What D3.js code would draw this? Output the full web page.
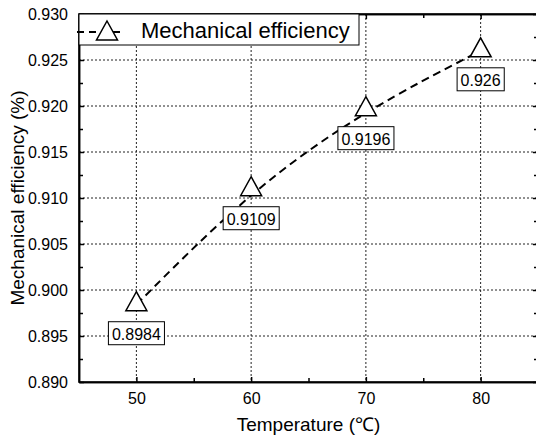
<!DOCTYPE html>
<html lang="en">
<head>
  <meta charset="UTF-8">
  <title>Mechanical efficiency</title>
  <script src="https://d3js.org/d3.v7.min.js"></script>
  <style>
    body { margin: 0; background: #fff; }
    text { font-family: Arial, "Liberation Sans", sans-serif; fill: #000; }
    .grid line { stroke: #222; stroke-width: 1; stroke-dasharray: 2,2; }
    .axis path, .axis line { stroke: #000; stroke-width: 1.5; fill: none; }
    .axis text { font-size: 16px; }
  </style>
</head>
<body>
  <svg id="chart"></svg>
  <script>
    // data
    const temps = [50, 60, 70, 80];
    const efficiency = [0.8984, 0.9109, 0.9196, 0.926];
    const valueLabels = ["0.8984", "0.9109", "0.9196", "0.926"];
    const xTicks = [50, 60, 70, 80];
    const xMinor = [55, 65, 75];
    const yTicks = [0.890, 0.895, 0.900, 0.905, 0.910, 0.915, 0.920, 0.925, 0.930];
    const yMinor = [0.8925, 0.8975, 0.9025, 0.9075, 0.9125, 0.9175, 0.9225, 0.9275];
    const seriesName = "Mechanical efficiency";

    const W = 536, H = 438;
    const margin = { top: 14, right: -2, bottom: 56, left: 79 };
    const width = W - margin.left - margin.right;
    const height = H - margin.top - margin.bottom;

    const svg = d3.select("#chart").attr("width", W).attr("height", H);
    const g = svg.append("g").attr("transform", `translate(${margin.left},${margin.top})`);

    const x = d3.scaleLinear().domain([45, 85]).range([0, width]);
    const y = d3.scaleLinear().domain([0.890, 0.930]).range([height, 0]);

    const data = temps.map((t, i) => ({ t, v: efficiency[i], label: valueLabels[i] }));

    // grid
    const grid = g.append("g").attr("class", "grid");
    grid.selectAll(".gx").data(xTicks).enter().append("line")
      .attr("x1", d => x(d)).attr("x2", d => x(d)).attr("y1", 0).attr("y2", height);
    grid.selectAll(".gy").data(yTicks.slice(1, -1)).enter().append("line")
      .attr("x1", 0).attr("x2", width).attr("y1", d => y(d)).attr("y2", d => y(d));

    // B-spline dashed curve
    const line = d3.line().x(d => x(d.t)).y(d => y(d.v)).curve(d3.curveBasis);
    g.append("path").datum(data)
      .attr("d", line)
      .attr("fill", "none")
      .attr("stroke", "#000")
      .attr("stroke-width", 2)
      .attr("stroke-dasharray", "8,5");

    // value boxes
    const lab = g.selectAll(".lab").data(data).enter().append("g")
      .attr("transform", d => `translate(${x(d.t)},${y(d.v) + 17})`);
    lab.append("text")
      .attr("text-anchor", "middle")
      .attr("y", 18)
      .style("font-size", "16px")
      .text(d => d.label)
      .each(function() {
        const b = this.getBBox();
        d3.select(this.parentNode).insert("rect", "text")
          .attr("x", b.x - 3.5).attr("y", 0)
          .attr("width", b.width + 7).attr("height", 23)
          .attr("fill", "#fff").attr("stroke", "#000").attr("stroke-width", 1);
      });

    // triangle markers
    const tri = "M0,-13L10.5,6L-10.5,6Z";
    g.selectAll(".mk").data(data).enter().append("path")
      .attr("d", tri)
      .attr("transform", d => `translate(${x(d.t)},${y(d.v)})`)
      .attr("fill", "#fff").attr("stroke", "#000").attr("stroke-width", 1.5);

    // axes (ticks pointing inward)
    const axB = g.append("g").attr("class", "axis").attr("transform", `translate(0,${height})`);
    axB.call(d3.axisBottom(x).tickValues(xTicks).tickSizeInner(-5).tickSizeOuter(0).tickPadding(11).tickFormat(d3.format("d")));
    axB.append("g").call(d3.axisBottom(x).tickValues(xMinor).tickSizeInner(-4).tickSizeOuter(0).tickFormat(""));

    const axT = g.append("g").attr("class", "axis");
    axT.call(d3.axisTop(x).tickValues(xTicks).tickSizeInner(-5).tickSizeOuter(0).tickFormat(""));
    axT.append("g").call(d3.axisTop(x).tickValues(xMinor).tickSizeInner(-4).tickSizeOuter(0).tickFormat(""));

    const axL = g.append("g").attr("class", "axis");
    axL.call(d3.axisLeft(y).tickValues(yTicks).tickSizeInner(-5).tickSizeOuter(0).tickPadding(11).tickFormat(d3.format(".3f")));
    axL.append("g").call(d3.axisLeft(y).tickValues(yMinor).tickSizeInner(-4).tickSizeOuter(0).tickFormat(""));

    const axR = g.append("g").attr("class", "axis").attr("transform", `translate(${width},0)`);
    axR.call(d3.axisRight(y).tickValues(yTicks).tickSizeInner(-5).tickSizeOuter(0).tickFormat(""));
    axR.append("g").call(d3.axisRight(y).tickValues(yMinor).tickSizeInner(-4).tickSizeOuter(0).tickFormat(""));

    // frame
    g.append("rect").attr("width", width).attr("height", height)
      .attr("fill", "none").attr("stroke", "#000").attr("stroke-width", 1.5);

    // legend
    const leg = g.append("g");
    leg.append("rect").attr("x", 0).attr("y", 0).attr("width", 280).attr("height", 31)
      .attr("fill", "#fff").attr("stroke", "#000").attr("stroke-width", 1);
    leg.append("line").attr("x1", -2).attr("x2", 45).attr("y1", 18).attr("y2", 18)
      .attr("stroke", "#000").attr("stroke-width", 2).attr("stroke-dasharray", "7,5");
    leg.append("path").attr("d", tri).attr("transform", "translate(28,20)")
      .attr("fill", "#fff").attr("stroke", "#000").attr("stroke-width", 1.5);
    leg.append("text").attr("x", 62).attr("y", 24).style("font-size", "22px").text(seriesName);

    // axis titles
    svg.append("text")
      .attr("x", margin.left + x(65)).attr("y", 431)
      .attr("text-anchor", "middle").style("font-size", "19px")
      .text("Temperature (℃)");
    svg.append("text")
      .attr("transform", `translate(24,${margin.top + height / 2}) rotate(-90)`)
      .attr("text-anchor", "middle").style("font-size", "19px")
      .text("Mechanical efficiency (%)");
  </script>
</body>
</html>
